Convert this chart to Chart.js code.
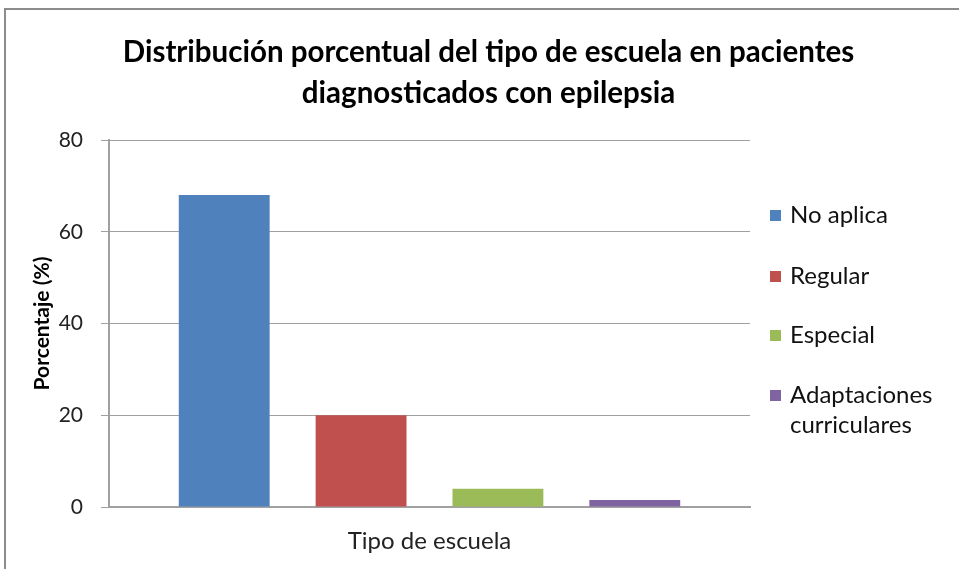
<!DOCTYPE html>
<html><head><meta charset="utf-8">
<script src="https://cdn.jsdelivr.net/npm/chart.js@4/dist/chart.umd.min.js"></script>
<style>
html,body{margin:0;padding:0;background:#fff;}
#wrap{position:relative;width:959px;height:569px;overflow:hidden;}
#frame{position:absolute;left:4px;top:8px;width:970px;height:580px;border:2px solid #8c8c8c;box-sizing:border-box;}
canvas{position:absolute;left:0;top:0;}
#title{position:absolute;left:0;top:30px;width:977px;text-align:center;font-family:Lato,'Open Sans',sans-serif;font-weight:bold;font-size:29.5px;line-height:41px;color:#000;}
#legend{position:absolute;left:770px;top:199px;font-family:Lato,'Open Sans',sans-serif;font-size:24px;color:#111;}
.item{position:absolute;left:0;width:185px;}
.box{position:absolute;left:0;width:11px;height:11px;}
.lbl{position:absolute;left:20px;line-height:30px;white-space:nowrap;}
</style></head>
<body><div id="wrap"><div id="frame"></div><canvas id="c" width="959" height="569"></canvas><div id="title"></div><div id="legend"></div></div>
<script>
const categories = ["Tipo de escuela"];
const seriesNames = ["No aplica","Regular","Especial","Adaptaciones curriculares"];
const seriesValues = [68, 20, 4, 1.5];
const seriesColors = ["#4f81bd","#c0504d","#9bbb59","#8064a2"];
const titleLines = ["Distribución porcentual del tipo de escuela en pacientes","diagnosticados con epilepsia"];
const yTicks = [0,20,40,60,80];
const yTitle = "Porcentaje (%)";
const FONT = "Lato, 'Open Sans', sans-serif";

const datasets = seriesNames.map((n,i)=>({label:n,data:[seriesValues[i]],backgroundColor:seriesColors[i],borderWidth:0,categoryPercentage:0.854,barPercentage:0.664}));

new Chart(document.getElementById('c'),{
  type:'bar',
  data:{labels:categories,datasets},
  options:{
    responsive:false,animation:false,
    layout:{padding:{left:0,right:209,top:140,bottom:0}},
    plugins:{legend:{display:false},tooltip:{enabled:false},title:{display:false}},
    scales:{
      x:{grid:{display:false,drawTicks:false},border:{color:'#a0a0a0',width:2},
         ticks:{color:'#222',font:{family:FONT,size:24},padding:20},
         afterFit:(ax)=>{ax.height=62;}},
      y:{min:0,max:80,afterBuildTicks:(ax)=>{ax.ticks=yTicks.map(v=>({value:v}));},
         grid:{color:'#a0a0a0',lineWidth:1,tickLength:8},border:{color:'#a0a0a0',width:2},
         ticks:{color:'#222',font:{family:FONT,size:21},padding:18},
         title:{display:true,text:yTitle,color:'#000',font:{family:FONT,size:21,weight:'bold'},padding:{top:30,bottom:0}},
         afterFit:(ax)=>{ax.width=109;}}
    }
  }
});

document.getElementById('title').innerHTML = titleLines.join('<br>');
const lg = document.getElementById('legend');
const tops=[0,61,120,180];
seriesNames.forEach((n,i)=>{
  const it=document.createElement('div');it.className='item';it.style.top=tops[i]+'px';
  const b=document.createElement('div');b.className='box';b.style.background=seriesColors[i];b.style.top='11px';
  const l=document.createElement('div');l.className='lbl';l.innerHTML=n==="Adaptaciones curriculares"?"Adaptaciones<br>curriculares":n;
  it.appendChild(b);it.appendChild(l);lg.appendChild(it);
});
</script></body></html>
